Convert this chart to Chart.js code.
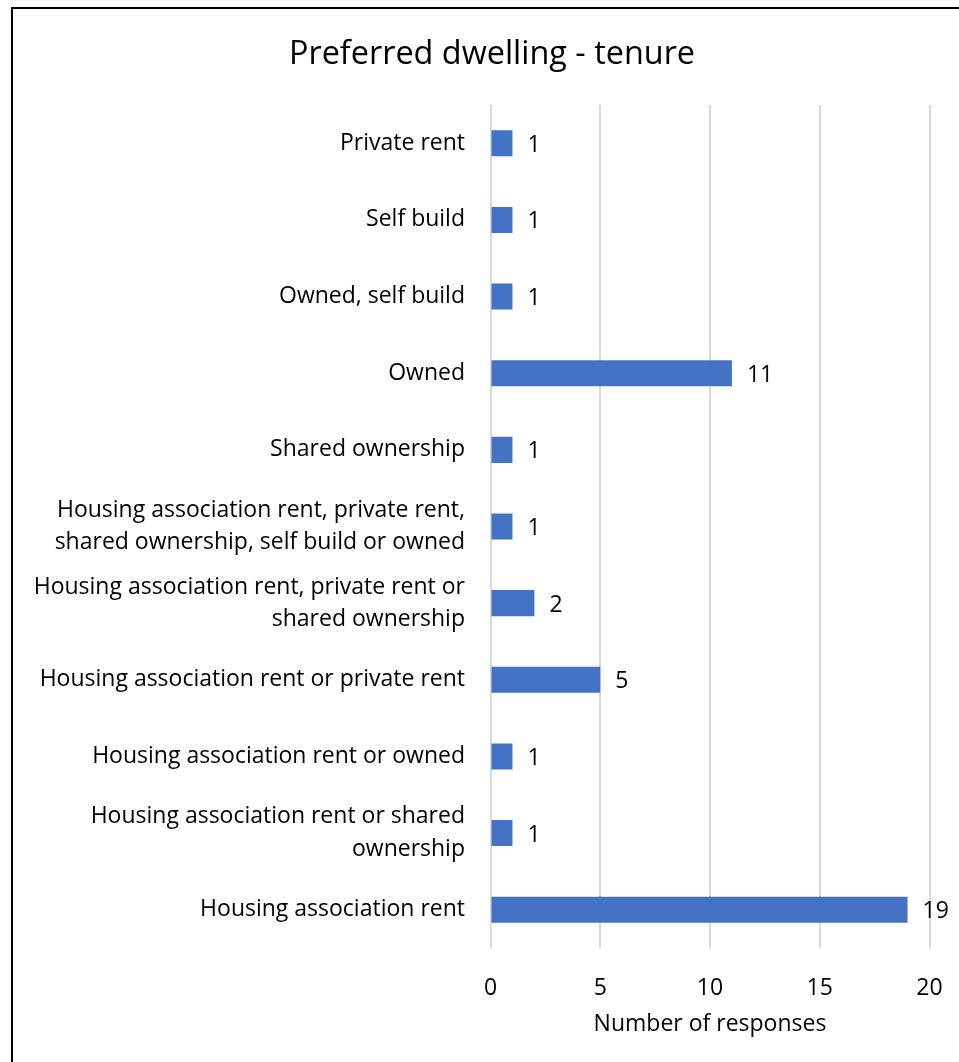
<!DOCTYPE html>
<html>
<head>
<meta charset="utf-8">
<script src="https://cdn.jsdelivr.net/npm/chart.js@4"></script>
<style>
  html, body { margin: 0; padding: 0; background: #fff; overflow: hidden; }
  #frame {
    position: absolute;
    left: 11px;
    top: 7px;
    width: 958px;
    height: 1053px;
    border: 2px solid #000;
  }
</style>
</head>
<body>
<div id="frame">
  <canvas id="tenure-chart" width="958" height="1053"></canvas>
</div>
<script>
// Tenure options, listed top to bottom
const tenureLabels = [
  "Private rent",
  "Self build",
  "Owned, self build",
  "Owned",
  "Shared ownership",
  ["Housing association rent, private rent,", "shared ownership, self build or owned"],
  ["Housing association rent, private rent or", "shared ownership"],
  "Housing association rent or private rent",
  "Housing association rent or owned",
  ["Housing association rent or shared", "ownership"],
  "Housing association rent"
];
const responseCounts = [1, 1, 1, 11, 1, 1, 2, 5, 1, 1, 19];
const xTicks = [0, 5, 10, 15, 20];

const fontFamily = '"Open Sans", sans-serif';
const labelFont = { family: fontFamily, size: 23, lineHeight: 1.4 };

// write the count just past the end of each bar
const valueLabels = {
  id: 'valueLabels',
  afterDatasetsDraw(chart) {
    const ctx = chart.ctx;
    const meta = chart.getDatasetMeta(0);
    ctx.save();
    ctx.font = `23px ${fontFamily}`;
    ctx.fillStyle = '#000';
    ctx.textAlign = 'left';
    ctx.textBaseline = 'middle';
    meta.data.forEach((bar, i) => {
      ctx.fillText(String(responseCounts[i]), bar.x + 15, bar.y + 2);
    });
    ctx.restore();
  }
};

const ctx = document.getElementById('tenure-chart').getContext('2d');
new Chart(ctx, {
  type: 'bar',
  data: {
    labels: tenureLabels,
    datasets: [{
      label: 'Number of responses',
      data: responseCounts,
      backgroundColor: '#4472C4',
      borderWidth: 0,
      categoryPercentage: 1,
      barPercentage: 0.34
    }]
  },
  options: {
    indexAxis: 'y',
    responsive: false,
    animation: false,
    plugins: {
      legend: { display: false },
      tooltip: { enabled: false },
      title: {
        display: true,
        text: 'Preferred dwelling - tenure',
        color: '#000',
        font: { family: fontFamily, size: 32.4, weight: 'normal', lineHeight: 1.2 },
        padding: { top: 26, bottom: 31.1 }
      }
    },
    scales: {
      x: {
        min: 0,
        max: 20,
        afterBuildTicks: scale => { scale.ticks = xTicks.map(v => ({ value: v })); },
        afterFit: scale => { scale.height = 114; },
        grid: { color: '#d9d9d9', lineWidth: 2, drawTicks: false },
        border: { display: false },
        ticks: { color: '#000', font: { family: fontFamily, size: 23, lineHeight: 1.2 }, padding: 27 },
        title: {
          display: true,
          text: 'Number of responses',
          color: '#000',
          font: { family: fontFamily, size: 23, lineHeight: 1.2 },
          padding: { top: 0, bottom: 23.5 }
        }
      },
      y: {
        afterFit: scale => { scale.width = 477.5; },
        grid: { display: false, drawTicks: false },
        border: { display: false },
        ticks: { color: '#000', font: labelFont, padding: 25.5, autoSkip: false }
      },
      // empty strip on the right so the title stays centred on the whole frame
      gutter: {
        type: 'linear',
        axis: 'y',
        position: 'right',
        afterFit: scale => { scale.width = 41.5; },
        grid: { display: false, drawTicks: false },
        border: { display: false },
        ticks: { display: false }
      }
    }
  },
  plugins: [valueLabels]
});
</script>
</body>
</html>
